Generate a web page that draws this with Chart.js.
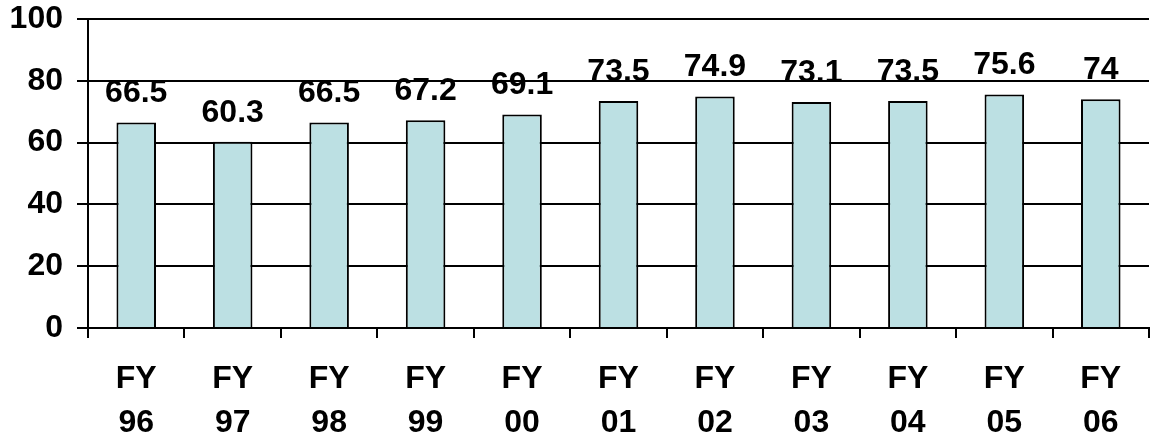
<!DOCTYPE html>
<html>
<head>
<meta charset="utf-8">
<script src="https://cdn.jsdelivr.net/npm/chart.js@4"></script>
<style>
  html, body { margin: 0; padding: 0; background: #fff; }
  #wrap { width: 1150px; height: 439px; }
</style>
</head>
<body>
<div id="wrap"><canvas id="chart" width="1150" height="439"></canvas></div>
<script>
const years = [['FY', '96'], ['FY', '97'], ['FY', '98'], ['FY', '99'], ['FY', '00'], ['FY', '01'], ['FY', '02'], ['FY', '03'], ['FY', '04'], ['FY', '05'], ['FY', '06']];
const values = [66.5, 60.3, 66.5, 67.2, 69.1, 73.5, 74.9, 73.1, 73.5, 75.6, 74];
const yTicks = [0, 20, 40, 60, 80, 100];

const fontFamily = 'Arial, "Liberation Sans", sans-serif';

// draws the numbers above each bar
const valueLabels = {
    id: 'valueLabels',
    afterDatasetsDraw(chart) {
        const ctx = chart.ctx;
        const meta = chart.getDatasetMeta(0);
        ctx.save();
        ctx.font = 'bold 32px ' + fontFamily;
        ctx.fillStyle = '#000';
        ctx.textAlign = 'center';
        ctx.textBaseline = 'bottom';
        meta.data.forEach((bar, i) => {
            ctx.fillText(String(values[i]), bar.x, bar.y - 13);
        });
        ctx.restore();
    }
};

new Chart(document.getElementById('chart').getContext('2d'), {
    type: 'bar',
    data: {
        labels: years,
        datasets: [{
            data: values,
            backgroundColor: '#BCE0E3',
            borderColor: '#000',
            borderWidth: 2,
            barPercentage: 0.41,
            categoryPercentage: 1
        }]
    },
    options: {
        responsive: false,
        animation: false,
        layout: { padding: { top: 19, right: 1, left: 0, bottom: 0 } },
        plugins: {
            legend: { display: false },
            tooltip: { enabled: false }
        },
        scales: {
            x: {
                offset: true,
                grid: {
                    offset: true,
                    drawOnChartArea: false,
                    drawTicks: true,
                    tickLength: 10,
                    color: '#000',
                    lineWidth: 2
                },
                border: { color: '#000', width: 2 },
                ticks: {
                    color: '#000',
                    padding: 20,
                    maxRotation: 0,
                    font: { family: fontFamily, size: 32, weight: 'bold', lineHeight: 1.35 }
                },
                afterFit(scale) { scale.height = 111; }
            },
            y: {
                min: 0,
                max: 100,
                afterBuildTicks(scale) { scale.ticks = yTicks.map(v => ({ value: v })); },
                grid: {
                    color: '#000',
                    lineWidth: 2,
                    tickLength: 11
                },
                border: { color: '#000', width: 2 },
                ticks: {
                    color: '#000',
                    padding: 14,
                    font: { family: fontFamily, size: 32, weight: 'bold' }
                },
                afterFit(scale) {
                    scale.width = 88;
                    scale.paddingTop = 0;
                    scale.paddingBottom = 0;
                }
            }
        }
    },
    plugins: [valueLabels]
});
</script>
</body>
</html>
